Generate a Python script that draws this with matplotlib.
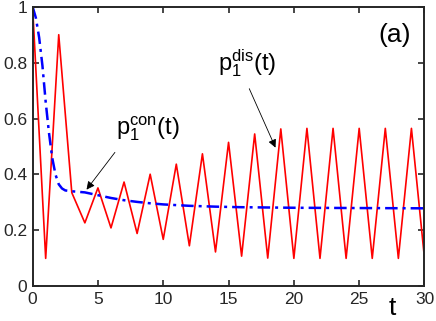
import numpy as np
import matplotlib
matplotlib.use("Agg")
import matplotlib.pyplot as plt

plt.rcParams['font.family'] = ['Liberation Sans', 'DejaVu Sans']

# discrete-time probability (sampled at integer t)
t_dis = list(range(31))
p_dis = [1.0, 0.10, 0.90, 0.335, 0.227, 0.352, 0.209, 0.373, 0.189, 0.401,
         0.168, 0.437, 0.145, 0.474, 0.123, 0.515, 0.108, 0.545, 0.101, 0.563,
         0.10, 0.565, 0.10, 0.565, 0.10, 0.565, 0.10, 0.565, 0.10, 0.565, 0.10]

# continuous-time probability
t_con = [0, 0.25, 0.5, 0.75, 1.0, 1.25, 1.5, 1.75, 2.0, 2.25, 2.5, 3, 4, 5, 6,
         7, 8, 9, 10, 12, 14, 16, 20, 25, 30]
p_con = [1.0, 0.96, 0.89, 0.79, 0.66, 0.55, 0.46, 0.40, 0.365, 0.35, 0.343,
         0.34, 0.336, 0.326, 0.316, 0.308, 0.302, 0.297, 0.293, 0.288, 0.285,
         0.283, 0.281, 0.280, 0.279]

fig = plt.figure(figsize=(4.36, 3.21), dpi=100)
ax = fig.add_axes([0.0748, 0.108, 0.8988, 0.871])

ax.plot(t_dis, p_dis, color='red', lw=1.2)
ax.plot(t_con, p_con, color='blue', lw=1.8, ls=(0, (5, 2, 1.2, 2)))

ax.set_xlim(0, 30)
ax.set_ylim(0, 1)
ax.set_xticks([0, 5, 10, 15, 20, 25, 30])
ax.set_yticks([0, 0.2, 0.4, 0.6, 0.8, 1])
ax.set_yticklabels(['0', '0.2', '0.4', '0.6', '0.8', '1'])
ax.tick_params(direction='in', top=True, right=True, length=4, width=1.2,
               labelsize=12.5, colors='#262626', pad=4)
for s in ax.spines.values():
    s.set_linewidth(1.4)
    s.set_color('#262626')

arrow = dict(arrowstyle='-|>', color='black', lw=0.6, mutation_scale=12)
ax.annotate('', xy=(4.0, 0.338), xytext=(6.43, 0.487), arrowprops=arrow)
ax.annotate('', xy=(18.68, 0.487), xytext=(16.5, 0.716), arrowprops=arrow)
ax.text(8.83, 0.565, r'$\mathregular{p_1^{con}(t)}$', fontsize=17,
        ha='center', va='center')
ax.text(16.4, 0.80, r'$\mathregular{p_1^{dis}(t)}$', fontsize=17,
        ha='center', va='center')
ax.text(27.7, 0.90, '(a)', fontsize=19, ha='center', va='center')
ax.text(27.5, -0.035, 't', fontsize=19, ha='center', va='top', clip_on=False)

fig.savefig('out.png', dpi=100)
